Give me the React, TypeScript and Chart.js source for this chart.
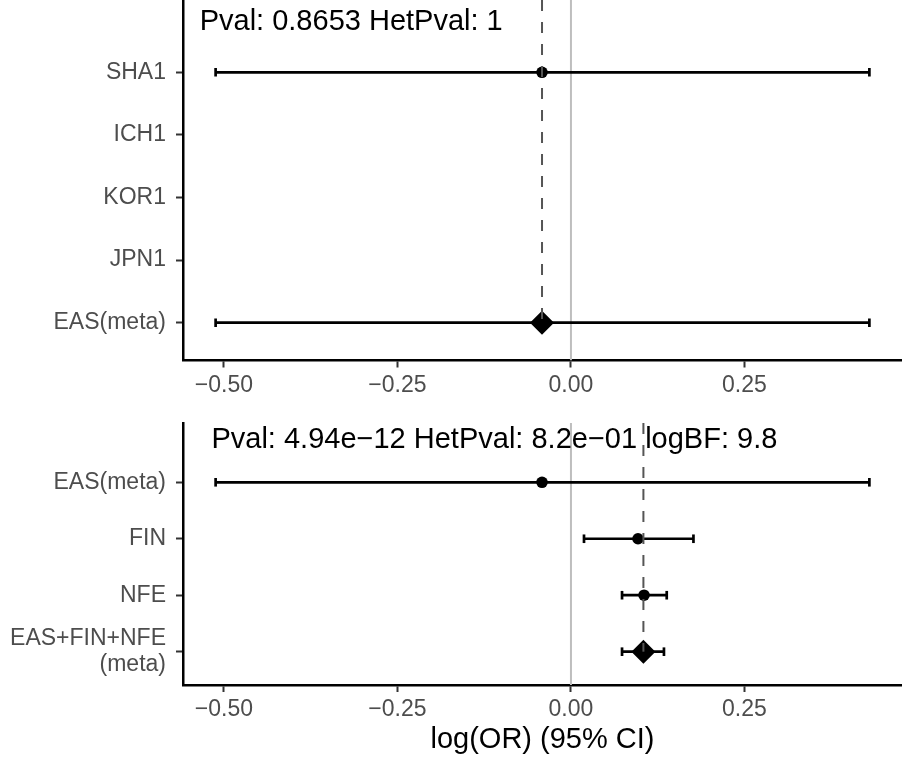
import React, { useEffect, useRef } from 'react';
import { Chart, registerables } from 'chart.js';

Chart.register(...registerables);

const FONT = "'Liberation Sans', Arial, Helvetica, sans-serif";

// ---- Data: top panel ----
const topCategories = ['SHA1', 'ICH1', 'KOR1', 'JPN1', 'EAS(meta)'];
const topEstimate = [-0.0417, null, null, null, -0.0417];
const topLower = [-0.512, null, null, null, -0.512];
const topUpper = [0.43, null, null, null, 0.43];
const topShape = ['circle', null, null, null, 'diamond'];
const topMetaEstimate = -0.0417;
const topAnnotation = 'Pval: 0.8653 HetPval: 1';

// ---- Data: bottom panel ----
const bottomCategories = ['EAS(meta)', 'FIN', 'NFE', 'EAS+FIN+NFE\n(meta)'];
const bottomEstimate = [-0.0417, 0.0966, 0.1053, 0.1044];
const bottomLower = [-0.512, 0.0188, 0.0736, 0.0736];
const bottomUpper = [0.43, 0.1765, 0.138, 0.134];
const bottomShape = ['circle', 'circle', 'circle', 'diamond'];
const bottomMetaEstimate = 0.1044;
const bottomAnnotation = 'Pval: 4.94e\u221212 HetPval: 8.2e\u221201 logBF: 9.8';

// ---- Axis ----
const xTickValues = [-0.5, -0.25, 0, 0.25];
const xTickLabels = ['\u22120.50', '\u22120.25', '0.00', '0.25'];
const xMin = -0.559;
const xMax = 0.477;
const xTitle = 'log(OR) (95% CI)';

type Layout = {
  width: number;
  height: number;
  top: number;
  paddingTop: number;
  yAxisWidth: number;
  xAxisHeight: number;
  yMin: number;
  yMax: number;
  textX: number;
  textY: number;
  showTitle: boolean;
};

type Panel = {
  categories: string[];
  estimate: (number | null)[];
  lower: (number | null)[];
  upper: (number | null)[];
  shapes: (string | null)[];
  metaEstimate: number;
  annotation: string;
  layout: Layout;
};

const panels: Panel[] = [
  {
    categories: topCategories,
    estimate: topEstimate,
    lower: topLower,
    upper: topUpper,
    shapes: topShape,
    metaEstimate: topMetaEstimate,
    annotation: topAnnotation,
    layout: {
      width: 902, height: 400, top: 0, paddingTop: 0, yAxisWidth: 183, xAxisHeight: 39.5,
      yMin: -0.155, yMax: 5.604, textX: -0.535, textY: 0.2, showTitle: false,
    },
  },
  {
    categories: bottomCategories,
    estimate: bottomEstimate,
    lower: bottomLower,
    upper: bottomUpper,
    shapes: bottomShape,
    metaEstimate: bottomMetaEstimate,
    annotation: bottomAnnotation,
    layout: {
      width: 902, height: 357, top: 400, paddingTop: 23, yAxisWidth: 183, xAxisHeight: 72,
      yMin: -0.05, yMax: 4.59, textX: -0.518, textY: 0.255, showTitle: true,
    },
  },
];

function zeroPadding(s: any) {
  s.paddingTop = 0;
  s.paddingBottom = 0;
  s.paddingLeft = 0;
  s.paddingRight = 0;
}

function buildConfig(p: Panel): any {
  const L = p.layout;
  const n = p.categories.length;
  const datasets: any[] = [];

  // zero reference line
  datasets.push({
    type: 'line',
    data: [{ x: 0, y: L.yMin }, { x: 0, y: L.yMax }],
    borderColor: '#BEBEBE',
    borderWidth: 2,
    pointRadius: 0,
    order: 10,
  });

  // error bars
  p.categories.forEach((_, i) => {
    const lo = p.lower[i];
    const hi = p.upper[i];
    if (lo == null || hi == null) return;
    datasets.push({
      type: 'line',
      data: [{ x: lo, y: i + 1 }, { x: hi, y: i + 1 }],
      borderColor: '#000000',
      borderWidth: 2.7,
      pointStyle: 'line',
      pointRotation: 90,
      pointRadius: 4.3,
      pointBorderWidth: 2.7,
      pointBorderColor: '#000000',
      order: 8,
    });
  });

  // point estimates
  const pts: any[] = [];
  const styles: string[] = [];
  const radii: number[] = [];
  p.categories.forEach((_, i) => {
    const e = p.estimate[i];
    if (e == null) return;
    pts.push({ x: e, y: i + 1 });
    const diamond = p.shapes[i] === 'diamond';
    styles.push(diamond ? 'rectRot' : 'circle');
    radii.push(diamond ? 12 : 5.8);
  });
  datasets.push({
    type: 'scatter',
    data: pts,
    pointStyle: styles,
    pointRadius: radii,
    backgroundColor: '#000000',
    borderColor: '#000000',
    borderWidth: 0,
    order: 6,
  });

  // dashed meta-estimate line
  datasets.push({
    type: 'line',
    data: [{ x: p.metaEstimate, y: L.yMin }, { x: p.metaEstimate, y: n }],
    borderColor: '#555555',
    borderWidth: 2,
    borderDash: [11, 11],
    pointRadius: 0,
    order: 2,
  });

  const annotationPlugin = {
    id: 'annot',
    afterDatasetsDraw(chart: any) {
      const ctx = chart.ctx;
      const xs = chart.scales.x;
      const ys = chart.scales.y;
      ctx.save();
      ctx.font = `29px ${FONT}`;
      ctx.fillStyle = '#000000';
      ctx.textAlign = 'left';
      ctx.textBaseline = 'middle';
      ctx.fillText(p.annotation, xs.getPixelForValue(L.textX), ys.getPixelForValue(L.textY));
      ctx.restore();
    },
  };

  const gridOpts = {
    display: true,
    drawOnChartArea: false,
    drawTicks: true,
    tickLength: 7,
    tickWidth: 2,
    tickColor: '#333333',
    color: 'rgba(0,0,0,0)',
  };

  return {
    type: 'scatter',
    data: { datasets },
    plugins: [annotationPlugin],
    options: {
      responsive: false,
      animation: false,
      events: [],
      devicePixelRatio: 1,
      layout: { autoPadding: false, padding: { top: L.paddingTop, left: 0, right: 0, bottom: 0 } },
      plugins: { legend: { display: false }, tooltip: { enabled: false } },
      scales: {
        x: {
          type: 'linear',
          min: xMin,
          max: xMax,
          afterBuildTicks: (s: any) => {
            s.ticks = xTickValues.map((v) => ({ value: v }));
          },
          afterFit: (s: any) => {
            s.height = L.xAxisHeight;
            zeroPadding(s);
          },
          ticks: {
            autoSkip: false,
            maxRotation: 0,
            padding: 4,
            color: '#4D4D4D',
            font: { family: FONT, size: 23 },
            callback: (v: number) => {
              const k = xTickValues.findIndex((t) => Math.abs(t - v) < 1e-9);
              return k >= 0 ? xTickLabels[k] : '';
            },
          },
          grid: gridOpts,
          border: { display: true, color: '#000000', width: 2.5 },
          title: {
            display: L.showTitle,
            text: xTitle,
            color: '#000000',
            font: { family: FONT, size: 29 },
            padding: { top: 0, bottom: 0 },
          },
        },
        y: {
          type: 'linear',
          reverse: true,
          min: L.yMin,
          max: L.yMax,
          afterBuildTicks: (s: any) => {
            s.ticks = p.categories.map((_, i) => ({ value: i + 1 }));
          },
          afterFit: (s: any) => {
            s.width = L.yAxisWidth;
            zeroPadding(s);
          },
          ticks: {
            autoSkip: false,
            padding: 10,
            color: '#4D4D4D',
            font: { family: FONT, size: 23, lineHeight: 1.17 },
            callback: (v: number) => {
              const k = Math.round(v) - 1;
              const lab = p.categories[k];
              if (lab == null) return '';
              return lab.includes('\n') ? lab.split('\n') : lab;
            },
          },
          grid: gridOpts,
          border: { display: true, color: '#000000', width: 2.5 },
        },
      },
    },
  };
}

function PanelChart({ panel }: { panel: Panel }) {
  const ref = useRef<HTMLCanvasElement | null>(null);
  useEffect(() => {
    if (!ref.current) return;
    const chart = new Chart(ref.current, buildConfig(panel));
    return () => chart.destroy();
  }, [panel]);
  const L = panel.layout;
  return (
    <canvas
      ref={ref}
      width={L.width}
      height={L.height}
      style={{ position: 'absolute', left: 0, top: L.top, width: L.width, height: L.height }}
    />
  );
}

export default function App() {
  return (
    <div style={{ position: 'fixed', left: 0, top: 0, width: 902, height: 757, background: '#ffffff' }}>
      {panels.map((p, i) => (
        <PanelChart key={i} panel={p} />
      ))}
    </div>
  );
}
